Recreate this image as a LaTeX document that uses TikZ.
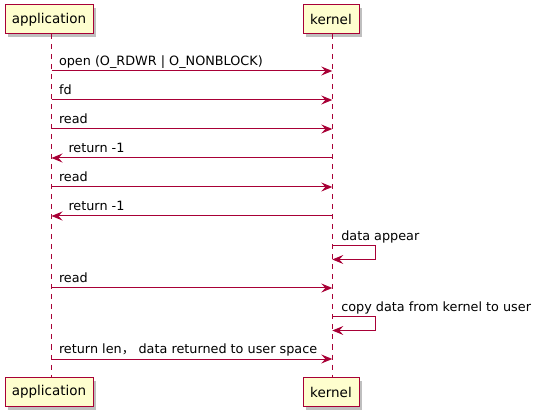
\documentclass[tikz,border=0pt]{standalone}
\usepackage{fontspec}
\setmainfont{DejaVu Sans}
\newfontfamily\cjk{Noto Sans CJK SC}
\usetikzlibrary{arrows.meta,shadows}
\definecolor{umlRed}{RGB}{168,0,54}
\definecolor{umlFill}{RGB}{254,254,206}
\tikzset{
  part/.style={
    rectangle, draw=umlRed, fill=umlFill, line width=1pt,
    minimum height=29pt, inner xsep=6pt,
    font=\fontsize{13.5}{16}\selectfont,
    drop shadow={shadow xshift=3pt, shadow yshift=-3pt, opacity=0.25, fill=black}
  },
  life/.style={draw=umlRed, line width=0.9pt, dash pattern=on 5pt off 5pt},
  msg/.style={draw=umlRed, line width=1pt,
    -{Stealth[length=11pt,width=9pt,inset=4pt]}},
  lblr/.style={at start, anchor=base west, xshift=7pt, yshift=5.5pt,
    inner sep=0pt, font=\fontsize{12.8}{15}\selectfont},
  lbll/.style={at end, anchor=base west, xshift=16.5pt, yshift=5.5pt,
    inner sep=0pt, font=\fontsize{12.8}{15}\selectfont},
  lbls/.style={at start, anchor=base west, xshift=8.5pt, yshift=5.5pt,
    inner sep=0pt, font=\fontsize{12.8}{15}\selectfont},
}
\begin{document}
\begin{tikzpicture}[x=1pt,y=-1pt]
  \useasboundingbox (0,0) rectangle (535,419);

  % participants
  \node[part, minimum width=88pt] (appTop) at (49,19.5)  {application};
  \node[part, minimum width=56pt] (kerTop) at (331,19.5) {kernel};
  \node[part, minimum width=88pt] (appBot) at (49,392)   {application};
  \node[part, minimum width=56pt] (kerBot) at (331,392)  {kernel};

  % message points on the lifelines
  \foreach \n/\y in {1/71,2/100,3/129,4/158,5/187,6/216,7/246,8/288,9/317,10/359}{
    \coordinate (a\n) at (51.5,\y);
    \coordinate (k\n) at (332.3,\y);
  }
  \coordinate (k7b) at (332.3,259.5);
  \coordinate (k9b) at (332.3,330.5);

  % lifelines
  \draw[life] (appTop.south -| a1) -- (appBot.north -| a1);
  \draw[life] (kerTop.south -| k1) -- (kerBot.north -| k1);

  % messages
  \draw[msg] (a1) -- (k1) node[lblr] {open (O\_RDWR | O\_NONBLOCK)};
  \draw[msg] (a2) -- (k2) node[lblr] {fd};
  \draw[msg] (a3) -- (k3) node[lblr] {read};
  \draw[msg] (k4) -- (a4) node[lbll] {return -1};
  \draw[msg] (a5) -- (k5) node[lblr] {read};
  \draw[msg] (k6) -- (a6) node[lbll] {return -1};
  \draw[msg] (k7) -- ++(43,0) node[lbls] {data appear} |- (k7b);
  \draw[msg] (a8) -- (k8) node[lblr] {read};
  \draw[msg] (k9) -- ++(43,0) node[lbls] {copy data from kernel to user} |- (k9b);
  \draw[msg] (a10) -- (k10) node[lblr] {return len{\cjk ，} data returned to user space};
\end{tikzpicture}
\end{document}
